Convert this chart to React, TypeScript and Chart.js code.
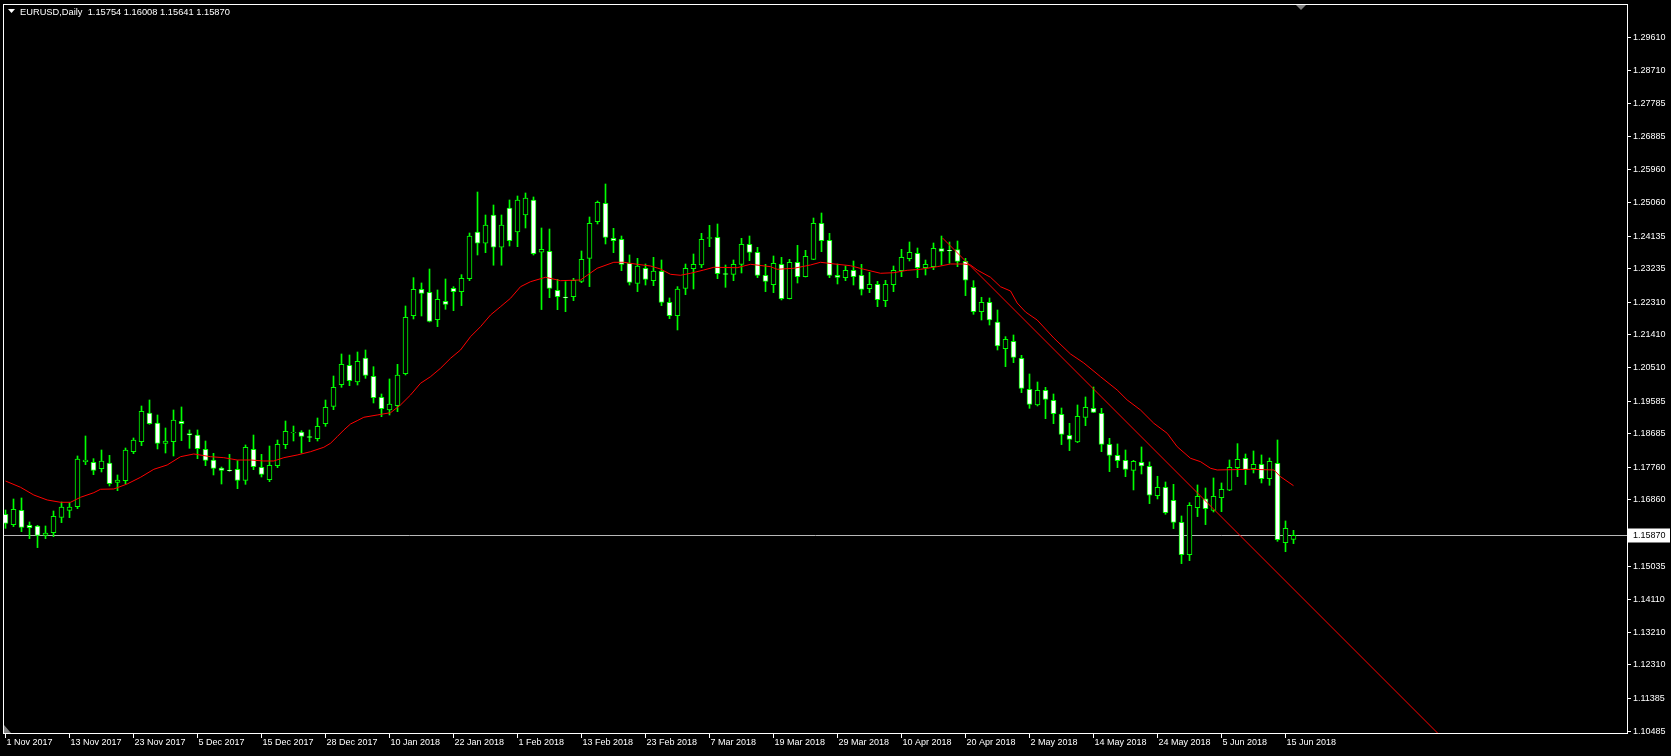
import React, { useEffect, useRef } from 'react';
import { Chart, registerables } from 'chart.js';

Chart.register(...registerables);

const symbolTitle = 'EURUSD,Daily';
const lastQuote = ['1.15754', '1.16008', '1.15641', '1.15870'];
const currentPrice = 1.1587;
const currentPriceLabel = '1.15870';

const opens = [
  1.16449, 1.16165, 1.16560, 1.16146, 1.16128, 1.15871, 1.15944, 1.16367, 1.16560, 1.16661,
  1.17901, 1.17883, 1.17709, 1.17865, 1.17332, 1.17378, 1.18177, 1.18453, 1.19243, 1.18968,
  1.18407, 1.18453, 1.19013, 1.18673, 1.18637, 1.18241, 1.17947, 1.17726, 1.17671, 1.17690,
  1.17386, 1.18241, 1.17745, 1.17405, 1.17791, 1.18370, 1.18691, 1.18719, 1.18590, 1.18535,
  1.18949, 1.19427, 1.20024, 1.20557, 1.20097, 1.20760, 1.20254, 1.19675, 1.19326, 1.19446,
  1.20328, 1.21927, 1.22653, 1.22570, 1.21817, 1.22322, 1.22680, 1.22589, 1.22946, 1.24234,
  1.23922, 1.24702, 1.23812, 1.24895, 1.24234, 1.24702, 1.25116, 1.23674, 1.23702, 1.22625,
  1.22442, 1.22451, 1.22874, 1.23508, 1.24519, 1.25024, 1.24059, 1.24032, 1.23370, 1.22818,
  1.23232, 1.22892, 1.23149, 1.22295, 1.21927, 1.22681, 1.23223, 1.23324, 1.24059, 1.24087,
  1.23085, 1.23067, 1.23342, 1.23894, 1.23673, 1.23039, 1.22781, 1.23342, 1.22395, 1.23397,
  1.23002, 1.23480, 1.24472, 1.24004, 1.23039, 1.22974, 1.23177, 1.23039, 1.22671, 1.22791,
  1.22340, 1.22781, 1.23167, 1.23498, 1.23645, 1.23250, 1.23278, 1.23774, 1.23728, 1.23746,
  1.23425, 1.22709, 1.22036, 1.22295, 1.21752, 1.21017, 1.21219, 1.20751, 1.19896, 1.19464,
  1.19868, 1.19593, 1.19207, 1.18628, 1.18444, 1.19124, 1.19372, 1.19234, 1.18380, 1.18076,
  1.17938, 1.17663, 1.17883, 1.17773, 1.16964, 1.17194, 1.16836, 1.16229, 1.15338, 1.16634,
  1.16873, 1.16560, 1.16909, 1.17112, 1.17736, 1.17994, 1.17709, 1.17828, 1.17433, 1.17856,
  1.15669, 1.15754,
];
const highs = [
  1.16569, 1.16872, 1.16900, 1.16238, 1.16146, 1.16128, 1.16541, 1.16789, 1.16771, 1.18058,
  1.18609, 1.17984, 1.18223, 1.18076, 1.17534, 1.18278, 1.18554, 1.19436, 1.19602, 1.19188,
  1.18830, 1.19326, 1.19409, 1.18775, 1.18775, 1.18471, 1.18131, 1.17754, 1.18103, 1.17929,
  1.18361, 1.18636, 1.18103, 1.18333, 1.18498, 1.19022, 1.18884, 1.18756, 1.18774, 1.19105,
  1.19601, 1.20263, 1.20870, 1.20842, 1.20925, 1.20980, 1.20520, 1.19767, 1.20181, 1.20585,
  1.22193, 1.22975, 1.22828, 1.23213, 1.22635, 1.22938, 1.22726, 1.23057, 1.24206, 1.25336,
  1.24702, 1.24978, 1.24702, 1.25116, 1.25226, 1.25309, 1.25199, 1.24344, 1.24316, 1.22929,
  1.22864, 1.22956, 1.23710, 1.24647, 1.25088, 1.25557, 1.24335, 1.24123, 1.23600, 1.23508,
  1.23351, 1.23535, 1.23462, 1.22414, 1.22727, 1.23351, 1.23627, 1.24197, 1.24418, 1.24454,
  1.23324, 1.23462, 1.24059, 1.24123, 1.23811, 1.23342, 1.23572, 1.23535, 1.23480, 1.23866,
  1.23728, 1.24619, 1.24757, 1.24197, 1.23351, 1.23296, 1.23434, 1.23342, 1.23121, 1.22873,
  1.22901, 1.23296, 1.23756, 1.23958, 1.23792, 1.23461, 1.23930, 1.24123, 1.23958, 1.23985,
  1.23508, 1.22892, 1.22433, 1.22414, 1.22083, 1.21348, 1.21394, 1.20833, 1.20319, 1.20098,
  1.19951, 1.19767, 1.19381, 1.18959, 1.19464, 1.19685, 1.19960, 1.19372, 1.18545, 1.18389,
  1.18223, 1.17938, 1.18306, 1.17893, 1.17498, 1.17341, 1.17277, 1.16404, 1.16771, 1.17259,
  1.17176, 1.17452, 1.17314, 1.17948, 1.18398, 1.18113, 1.18196, 1.18086, 1.18003, 1.18499,
  1.16266, 1.16008,
];
const lows = [
  1.16063, 1.16110, 1.15971, 1.15779, 1.15531, 1.15779, 1.15834, 1.16220, 1.16358, 1.16606,
  1.17819, 1.17543, 1.17617, 1.17231, 1.17102, 1.17295, 1.18122, 1.18343, 1.18931, 1.18251,
  1.18140, 1.18058, 1.18480, 1.18269, 1.17984, 1.17791, 1.17534, 1.17285, 1.17635, 1.17157,
  1.17276, 1.17681, 1.17478, 1.17350, 1.17736, 1.18259, 1.18471, 1.18140, 1.18452, 1.18471,
  1.18875, 1.19335, 1.19950, 1.19996, 1.20015, 1.20199, 1.19519, 1.19142, 1.19188, 1.19280,
  1.20291, 1.21835, 1.21918, 1.21752, 1.21624, 1.22102, 1.22065, 1.22203, 1.22892, 1.23599,
  1.23663, 1.23317, 1.23317, 1.23847, 1.23828, 1.24344, 1.23599, 1.22095, 1.22422, 1.22092,
  1.22037, 1.22341, 1.22837, 1.22727, 1.24454, 1.23903, 1.23664, 1.23168, 1.22772, 1.22589,
  1.22772, 1.22754, 1.22203, 1.21844, 1.21532, 1.22506, 1.22662, 1.23250, 1.23829, 1.22947,
  1.22708, 1.22892, 1.23103, 1.23443, 1.22975, 1.22589, 1.22561, 1.22359, 1.22386, 1.22827,
  1.22993, 1.23471, 1.23691, 1.22974, 1.22800, 1.22892, 1.22772, 1.22496, 1.22561, 1.22175,
  1.22175, 1.22588, 1.23002, 1.23434, 1.22974, 1.23048, 1.23195, 1.23324, 1.23370, 1.23278,
  1.22479, 1.21964, 1.21807, 1.21669, 1.20980, 1.20521, 1.20631, 1.19804, 1.19372, 1.19437,
  1.19087, 1.18949, 1.18371, 1.18205, 1.18426, 1.18894, 1.19253, 1.18177, 1.17626, 1.17736,
  1.17488, 1.17121, 1.17562, 1.16744, 1.16873, 1.16450, 1.16055, 1.15090, 1.15172, 1.16386,
  1.16165, 1.16514, 1.16523, 1.17102, 1.17488, 1.17268, 1.17589, 1.17314, 1.17249, 1.15705,
  1.15420, 1.15641,
];
const closes = [
  1.16201, 1.16587, 1.16091, 1.16082, 1.15871, 1.15935, 1.16394, 1.16652, 1.16652, 1.17975,
  1.17947, 1.17663, 1.17920, 1.17295, 1.17396, 1.18223, 1.18499, 1.19289, 1.18949, 1.18407,
  1.18471, 1.19050, 1.18949, 1.18637, 1.18260, 1.17938, 1.17717, 1.17662, 1.17653, 1.17386,
  1.18296, 1.17763, 1.17552, 1.17800, 1.18379, 1.18737, 1.18710, 1.18600, 1.18572, 1.18875,
  1.19399, 1.19950, 1.20585, 1.20134, 1.20667, 1.20281, 1.19666, 1.19362, 1.19492, 1.20291,
  1.21881, 1.22653, 1.22543, 1.21771, 1.22377, 1.22239, 1.22589, 1.22956, 1.24123, 1.23922,
  1.24426, 1.23812, 1.24426, 1.23994, 1.25116, 1.25171, 1.23636, 1.23757, 1.22681, 1.22451,
  1.22423, 1.22901, 1.23480, 1.24473, 1.25052, 1.24087, 1.23995, 1.23342, 1.22846, 1.23296,
  1.22929, 1.23158, 1.22295, 1.21927, 1.22662, 1.23232, 1.23342, 1.24032, 1.24077, 1.23085,
  1.23067, 1.23342, 1.23894, 1.23673, 1.23039, 1.22874, 1.23370, 1.22395, 1.23397, 1.23002,
  1.23563, 1.24472, 1.23994, 1.23039, 1.22984, 1.23177, 1.23002, 1.22653, 1.22791, 1.22368,
  1.22791, 1.23177, 1.23535, 1.23673, 1.23250, 1.23342, 1.23783, 1.23700, 1.23710, 1.23425,
  1.22902, 1.22038, 1.22295, 1.21807, 1.21090, 1.21275, 1.20778, 1.19924, 1.19482, 1.19868,
  1.19620, 1.19225, 1.18655, 1.18517, 1.19152, 1.19400, 1.19262, 1.18380, 1.18076, 1.17929,
  1.17690, 1.17911, 1.17782, 1.16974, 1.17194, 1.16496, 1.16229, 1.15338, 1.16698, 1.16946,
  1.16606, 1.16946, 1.17139, 1.17746, 1.17966, 1.17681, 1.17828, 1.17433, 1.17911, 1.15751,
  1.16064, 1.15870,
];

const xTickBars = [0, 8, 16, 24, 32, 40, 48, 56, 64, 72, 80, 88, 96, 104, 112, 120, 128, 136, 144, 152, 160];
const xTickLabels = [
  '1 Nov 2017', '13 Nov 2017', '23 Nov 2017', '5 Dec 2017', '15 Dec 2017', '28 Dec 2017',
  '10 Jan 2018', '22 Jan 2018', '1 Feb 2018', '13 Feb 2018', '23 Feb 2018', '7 Mar 2018',
  '19 Mar 2018', '29 Mar 2018', '10 Apr 2018', '20 Apr 2018', '2 May 2018', '14 May 2018',
  '24 May 2018', '5 Jun 2018', '15 Jun 2018',
];
const yTickValues = [
  1.2961, 1.2871, 1.27785, 1.26885, 1.2596, 1.2506, 1.24135, 1.23235, 1.2231, 1.2141, 1.2051,
  1.19585, 1.18685, 1.1776, 1.1686, 1.15035, 1.1411, 1.1321, 1.1231, 1.11385, 1.10485,
];

const maBars = [
  0, 1.875, 3.54, 5.21, 6.875, 8.125, 9.375, 11.04, 11.875, 13.54, 15.21, 16.875, 18.54, 20.21,
  21.875, 23.54, 25.625, 27.29, 28.96, 30.625, 32.29, 33.54, 34.79, 36.46, 38.125, 39.79, 40.625,
  41.46, 42.29, 43.125, 43.96, 44.79, 46.46, 48.125, 49.375, 50.625, 51.875, 53.125, 54.375,
  55.625, 56.875, 58.125, 59.375, 60.625, 61.875, 63.125, 64.375, 65.625, 67.5, 69.375, 71.875,
  73.96, 76.04, 77.29, 78.96, 80.625, 81.875, 83.125, 84.375, 85.625, 87.29, 88.54, 91.46, 93.125,
  95.625, 96.46, 98.54, 100.625, 101.875, 103.96, 105.625, 107.29, 109.375, 111.04, 112.71,
  114.375, 116.46, 118.125, 119.79, 120.625, 121.46, 123.125, 124.375, 125.625, 126.46, 127.5,
  128.96, 131.04, 133.125, 134.79, 136.875, 138.96, 140.21, 141.875, 143.54, 145.21, 146.46,
  148.125, 149.375, 150.625, 151.46, 155.625, 158.54, 159.375, 161,
];
const maValues = [
  1.17368, 1.17195, 1.16982, 1.16845, 1.16781, 1.16781, 1.16919, 1.17046, 1.1714, 1.17148,
  1.17286, 1.1747, 1.17691, 1.1781, 1.18038, 1.18113, 1.18038, 1.18011, 1.17947, 1.17947,
  1.1792, 1.1792, 1.18011, 1.18085, 1.18176, 1.18298, 1.18408, 1.1859, 1.18774, 1.1894,
  1.19031, 1.19125, 1.19188, 1.19251, 1.19464, 1.19739, 1.20062, 1.20244, 1.20476, 1.20751,
  1.2098, 1.21347, 1.21623, 1.21945, 1.22174, 1.22406, 1.22725, 1.22863, 1.22985, 1.22891,
  1.2291, 1.23233, 1.23398, 1.23398, 1.23343, 1.23296, 1.23213, 1.23067, 1.2304, 1.23095,
  1.23186, 1.2326, 1.23249, 1.23343, 1.23277, 1.23205, 1.23233, 1.23324, 1.23398, 1.23343,
  1.23304, 1.23205, 1.23095, 1.23111, 1.23177, 1.23205, 1.23277, 1.23351, 1.23351, 1.23324,
  1.23186, 1.22985, 1.22725, 1.22607, 1.22276, 1.22028, 1.21807, 1.21311, 1.2087, 1.20622,
  1.20244, 1.19877, 1.19602, 1.19326, 1.18959, 1.18684, 1.18314, 1.17994, 1.17901, 1.17719,
  1.17672, 1.17691, 1.17672, 1.17487, 1.17239,
];

const trendBars = [117.125, 180];
const trendValues = [1.24068, 1.102];

const GREEN = '#00ff00';
const FONT = '9px "Liberation Sans", Arial, sans-serif';
const HEADER_FONT = '9.3px "Liberation Sans", Arial, sans-serif';

const mt4Plugin = {
  id: 'mt4Look',
  beforeDraw(chart: any) {
    const { ctx, width, height } = chart;
    ctx.save();
    ctx.fillStyle = '#000000';
    ctx.fillRect(0, 0, width, height);
    ctx.restore();
  },
  beforeDatasetsDraw(chart: any) {
    const { ctx, chartArea: a, scales } = chart;
    const py = Math.round(scales.y.getPixelForValue(currentPrice)) + 0.5;
    ctx.save();
    ctx.strokeStyle = '#b8b8b8';
    ctx.lineWidth = 1;
    ctx.beginPath();
    ctx.moveTo(a.left, py);
    ctx.lineTo(a.right, py);
    ctx.stroke();
    ctx.restore();
  },
  afterDraw(chart: any) {
    const { ctx, chartArea: a, scales } = chart;
    const xs = scales.x;
    const ys = scales.y;
    ctx.save();
    // frame
    ctx.strokeStyle = '#ffffff';
    ctx.lineWidth = 1;
    ctx.strokeRect(a.left - 0.5, a.top - 0.5, a.right - a.left + 1, a.bottom - a.top + 1);

    ctx.font = FONT;
    ctx.fillStyle = '#ffffff';
    ctx.textAlign = 'left';
    ctx.textBaseline = 'middle';

    // y ticks
    yTickValues.forEach((v) => {
      const py = Math.round(ys.getPixelForValue(v)) + 0.5;
      ctx.beginPath();
      ctx.moveTo(a.right + 1, py);
      ctx.lineTo(a.right + 4, py);
      ctx.stroke();
      ctx.fillText(v.toFixed(5), a.right + 6, py);
    });

    // current price label
    const cp = Math.round(ys.getPixelForValue(currentPrice)) + 0.5;
    ctx.fillStyle = '#ffffff';
    ctx.fillRect(a.right + 1, cp - 7, 42, 14);
    ctx.fillStyle = '#000000';
    ctx.fillText(currentPriceLabel, a.right + 6, cp);

    // x ticks
    ctx.fillStyle = '#ffffff';
    xTickBars.forEach((b, k) => {
      const px = Math.floor(xs.getPixelForValue(b)) + 0.5;
      ctx.beginPath();
      ctx.moveTo(px, a.bottom + 1);
      ctx.lineTo(px, a.bottom + 5);
      ctx.stroke();
      ctx.fillText(xTickLabels[k], px + 1, a.bottom + 10);
    });

    // header
    ctx.beginPath();
    ctx.moveTo(8, 9);
    ctx.lineTo(15, 9);
    ctx.lineTo(11.5, 13);
    ctx.closePath();
    ctx.fill();
    ctx.font = HEADER_FONT;
    ctx.fillText(symbolTitle + '  ' + lastQuote.join(' '), 20, 12);

    // chart shift marker
    ctx.fillStyle = '#808080';
    ctx.beginPath();
    ctx.moveTo(1296, a.top);
    ctx.lineTo(1306, a.top);
    ctx.lineTo(1301, a.top + 5);
    ctx.closePath();
    ctx.fill();
    // bottom-left corner marker
    ctx.beginPath();
    ctx.moveTo(a.left, a.bottom - 8);
    ctx.lineTo(a.left, a.bottom);
    ctx.lineTo(a.left + 7, a.bottom);
    ctx.closePath();
    ctx.fill();
    ctx.restore();
  },
};

export default function App() {
  const canvasRef = useRef<HTMLCanvasElement | null>(null);

  useEffect(() => {
    document.body.style.margin = '0';
    document.body.style.background = '#000';
    const canvas = canvasRef.current;
    if (!canvas) return;

    const idx = opens.map((_, i) => i);
    const wickData = idx.map((i) => ({ x: i, y: [lows[i], highs[i]] }));
    const bodyData = idx.map((i) => ({ x: i, y: [opens[i], closes[i]] }));
    const bodyFill = idx.map((i) => (closes[i] >= opens[i] ? '#000000' : '#ffffff'));
    const maData = maBars.map((b, k) => ({ x: b, y: maValues[k] }));
    const trendData = trendBars.map((b, k) => ({ x: b, y: trendValues[k] }));

    const chart = new Chart(canvas, {
      type: 'bar',
      data: {
        datasets: [
          {
            type: 'bar',
            label: 'wick',
            data: wickData as any,
            backgroundColor: GREEN,
            borderWidth: 0,
            barThickness: 1,
            grouped: false,
            order: 4,
          } as any,
          {
            type: 'bar',
            label: 'body',
            data: bodyData as any,
            backgroundColor: bodyFill,
            borderColor: GREEN,
            borderWidth: 1,
            borderSkipped: false,
            barThickness: 5,
            grouped: false,
            order: 3,
          } as any,
          {
            type: 'line',
            label: 'MA',
            data: maData as any,
            borderColor: '#ff0000',
            borderWidth: 1,
            pointRadius: 0,
            tension: 0,
            order: 2,
          } as any,
          {
            type: 'line',
            label: 'trend',
            data: trendData as any,
            borderColor: '#ff0000',
            borderWidth: 1,
            pointRadius: 0,
            tension: 0,
            order: 1,
          } as any,
        ],
      },
      options: {
        responsive: false,
        animation: false,
        devicePixelRatio: 1,
        layout: { padding: { left: 4, top: 5, right: 44, bottom: 23 } },
        plugins: { legend: { display: false }, tooltip: { enabled: false } },
        events: [],
        scales: {
          x: { type: 'linear', display: false, min: -0.1875, max: 202.6875, offset: false },
          y: { type: 'linear', display: false, min: 1.1042, max: 1.30492 },
        },
      } as any,
      plugins: [mt4Plugin],
    });

    return () => chart.destroy();
  }, []);

  return (
    <div style={{ width: 1671, height: 756, background: '#000' }}>
      <canvas ref={canvasRef} width={1671} height={756} style={{ display: 'block' }} />
    </div>
  );
}
